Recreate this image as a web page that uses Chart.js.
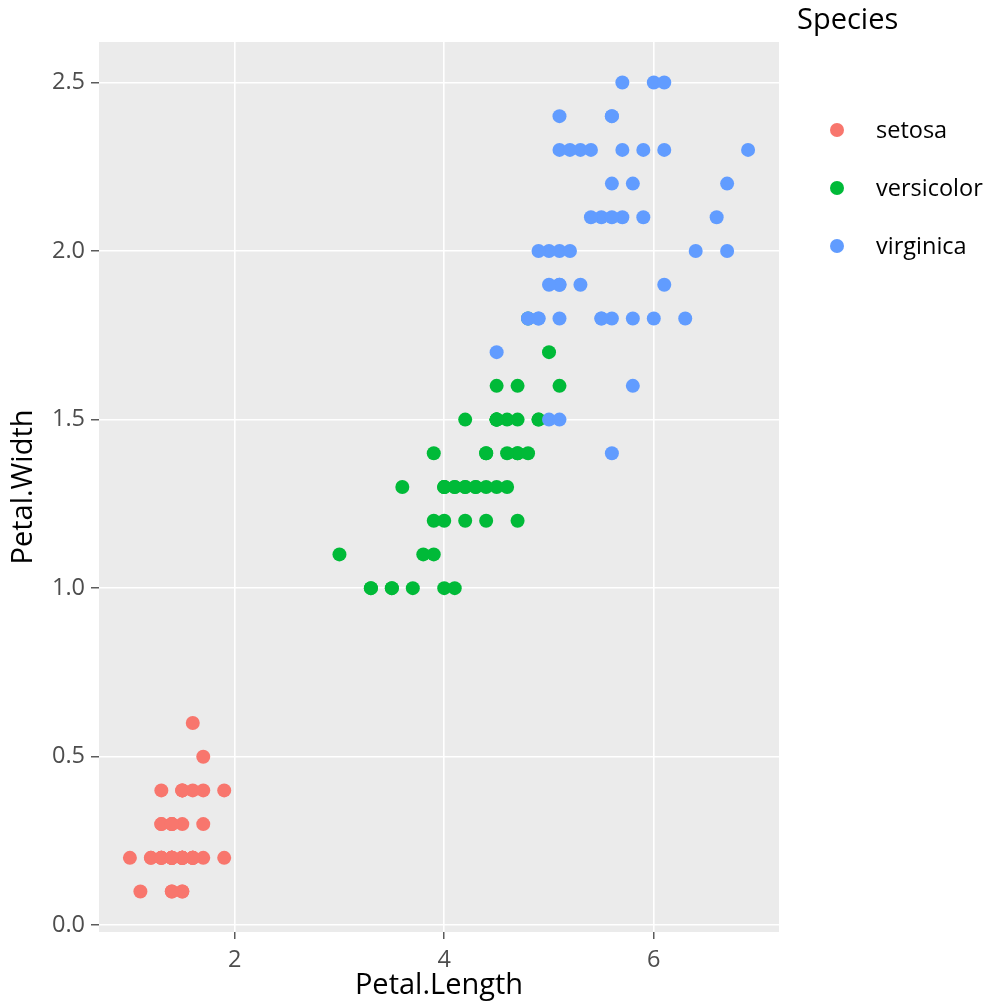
<!DOCTYPE html>
<html>
<head>
<meta charset="utf-8">
<script src="https://cdn.jsdelivr.net/npm/chart.js@4/dist/chart.umd.min.js"></script>
<style>
  html, body { margin: 0; padding: 0; background: #fff; }
  #wrap { width: 986px; height: 1003px; position: relative; }
</style>
</head>
<body>
<div id="wrap"><canvas id="scatterChart" width="986" height="1003"></canvas></div>
<script>
// iris petal measurements, per species
const setosaLength = [1.4,1.4,1.3,1.5,1.4,1.7,1.4,1.5,1.4,1.5,1.5,1.6,1.4,1.1,1.2,1.5,1.3,1.4,1.7,1.5,1.7,1.5,1.0,1.7,1.9,1.6,1.6,1.5,1.4,1.6,1.6,1.5,1.5,1.4,1.5,1.2,1.3,1.4,1.3,1.5,1.3,1.3,1.3,1.6,1.9,1.4,1.6,1.4,1.5,1.4];
const setosaWidth  = [0.2,0.2,0.2,0.2,0.2,0.4,0.3,0.2,0.2,0.1,0.2,0.2,0.1,0.1,0.2,0.4,0.4,0.3,0.3,0.3,0.2,0.4,0.2,0.5,0.2,0.2,0.4,0.2,0.2,0.2,0.2,0.4,0.1,0.2,0.2,0.2,0.2,0.1,0.2,0.2,0.3,0.3,0.2,0.6,0.4,0.3,0.2,0.2,0.2,0.2];

const versicolorLength = [4.7,4.5,4.9,4.0,4.6,4.5,4.7,3.3,4.6,3.9,3.5,4.2,4.0,4.7,3.6,4.4,4.5,4.1,4.5,3.9,4.8,4.0,4.9,4.7,4.3,4.4,4.8,5.0,4.5,3.5,3.8,3.7,3.9,5.1,4.5,4.5,4.7,4.4,4.1,4.0,4.4,4.6,4.0,3.3,4.2,4.2,4.2,4.3,3.0,4.1];
const versicolorWidth  = [1.4,1.5,1.5,1.3,1.5,1.3,1.6,1.0,1.3,1.4,1.0,1.5,1.0,1.4,1.3,1.4,1.5,1.0,1.5,1.1,1.8,1.3,1.5,1.2,1.3,1.4,1.4,1.7,1.5,1.0,1.1,1.0,1.2,1.6,1.5,1.6,1.5,1.3,1.3,1.3,1.2,1.4,1.2,1.0,1.3,1.2,1.3,1.3,1.1,1.3];

const virginicaLength = [6.0,5.1,5.9,5.6,5.8,6.6,4.5,6.3,5.8,6.1,5.1,5.3,5.5,5.0,5.1,5.3,5.5,6.7,6.9,5.0,5.7,4.9,6.7,4.9,5.7,6.0,4.8,4.9,5.6,5.8,6.1,6.4,5.6,5.1,5.6,6.1,5.6,5.5,4.8,5.4,5.6,5.1,5.1,5.9,5.7,5.2,5.0,5.2,5.4,5.1];
const virginicaWidth  = [2.5,1.9,2.1,1.8,2.2,2.1,1.7,1.8,1.8,2.5,2.0,1.9,2.1,2.0,2.4,2.3,1.8,2.2,2.3,1.5,2.3,2.0,2.0,1.8,2.1,1.8,1.8,1.8,2.1,1.6,1.9,2.0,2.2,1.5,1.4,2.3,2.4,1.8,1.8,2.1,2.4,2.3,1.9,2.3,2.5,2.3,1.9,2.0,2.3,1.8];

const speciesNames = ["setosa", "versicolor", "virginica"];
const speciesColors = ["#F8766D", "#00BA38", "#619CFF"];

const xTicks = [2, 4, 6];
const yTicks = [0, 0.5, 1, 1.5, 2, 2.5];

function toPoints(xs, ys) {
  return xs.map((x, i) => ({ x: x, y: ys[i] }));
}

const seriesX = [setosaLength, versicolorLength, virginicaLength];
const seriesY = [setosaWidth, versicolorWidth, virginicaWidth];

// later species drawn on top (like ggplot row order)
const datasets = speciesNames.map((name, i) => ({
  label: name,
  data: toPoints(seriesX[i], seriesY[i]),
  backgroundColor: speciesColors[i],
  borderWidth: 0,
  pointRadius: 7,
  pointHoverRadius: 7,
  order: speciesNames.length - i
}));

const FONT = "'Open Sans', 'Noto Sans', sans-serif";
const TITLE_SIZE = 29;
const TEXT_SIZE = 23.5;

// grey panel behind the points
const panelBg = {
  id: "panelBg",
  beforeDraw(chart) {
    const a = chart.chartArea;
    const ctx = chart.ctx;
    ctx.save();
    ctx.fillStyle = "#EBEBEB";
    ctx.fillRect(a.left, a.top, a.right - a.left, a.bottom - a.top);
    ctx.restore();
  }
};

// ggplot style legend on the right
const sideLegend = {
  id: "sideLegend",
  afterDraw(chart) {
    const ctx = chart.ctx;
    ctx.save();
    ctx.fillStyle = "#000";
    ctx.textBaseline = "alphabetic";
    ctx.textAlign = "left";
    ctx.font = TITLE_SIZE + "px " + FONT;
    ctx.fillText("Species", 797, 29);
    ctx.font = TEXT_SIZE + "px " + FONT;
    chart.data.datasets.forEach((ds, i) => {
      const cy = 130 + i * 58;
      ctx.fillStyle = ds.backgroundColor;
      ctx.beginPath();
      ctx.arc(837, cy, 7, 0, Math.PI * 2);
      ctx.fill();
      ctx.fillStyle = "#000";
      ctx.fillText(ds.label, 876, cy + 8);
    });
    ctx.restore();
  }
};

const ctx = document.getElementById("scatterChart").getContext("2d");

new Chart(ctx, {
  type: "scatter",
  data: { datasets },
  plugins: [panelBg, sideLegend],
  options: {
    responsive: false,
    animation: false,
    events: [],
    layout: { padding: { top: 42, right: 207, left: 0, bottom: 0 } },
    plugins: {
      legend: { display: false },
      tooltip: { enabled: false }
    },
    scales: {
      x: {
        type: "linear",
        min: 0.705,
        max: 7.195,
        afterBuildTicks: s => { s.ticks = xTicks.map(v => ({ value: v })); },
        afterFit: s => { s.height = 71; },
        border: { display: false },
        grid: {
          color: "#FFFFFF",
          lineWidth: 1.6,
          tickColor: "#333333",
          tickWidth: 1.2,
          tickLength: 7
        },
        ticks: {
          color: "#4D4D4D",
          font: { family: FONT, size: TEXT_SIZE },
          padding: 7,
          maxRotation: 0,
          callback: v => String(v)
        },
        title: {
          display: true,
          text: "Petal.Length",
          color: "#000",
          font: { family: FONT, size: TITLE_SIZE },
          padding: { top: 0, bottom: 0 }
        }
      },
      y: {
        type: "linear",
        min: -0.02,
        max: 2.62,
        afterBuildTicks: s => { s.ticks = yTicks.map(v => ({ value: v })); },
        afterFit: s => { s.width = 99; },
        border: { display: false },
        grid: {
          color: "#FFFFFF",
          lineWidth: 1.6,
          tickColor: "#333333",
          tickWidth: 1.2,
          tickLength: 8
        },
        ticks: {
          color: "#4D4D4D",
          font: { family: FONT, size: TEXT_SIZE },
          padding: 6,
          callback: v => v.toFixed(1)
        },
        title: {
          display: true,
          text: "Petal.Width",
          color: "#000",
          font: { family: FONT, size: TITLE_SIZE },
          padding: { top: 6, bottom: 0 }
        }
      }
    }
  }
});
</script>
</body>
</html>
